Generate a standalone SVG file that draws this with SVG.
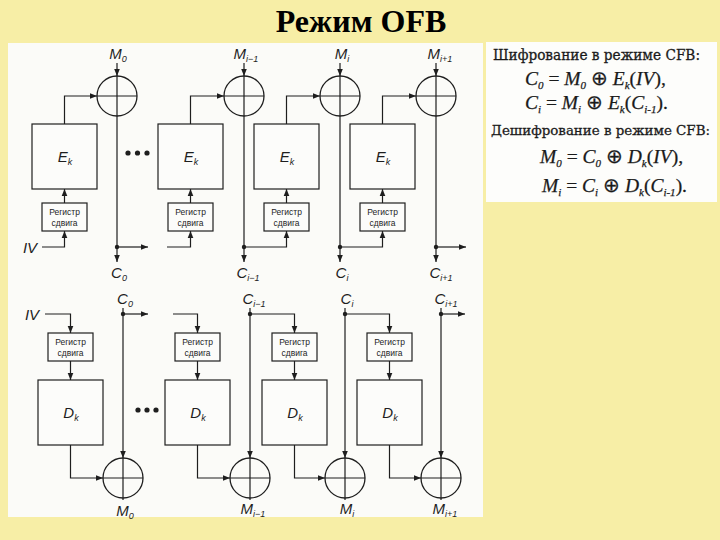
<svg xmlns="http://www.w3.org/2000/svg" width="720" height="540" viewBox="0 0 720 540">
<defs>
<marker id="ah" viewBox="0 0 10 10" refX="10" refY="5" markerWidth="7" markerHeight="7" markerUnits="userSpaceOnUse" orient="auto">
<path d="M0,1 L10,5 L0,9 z" fill="#1e1e1e"/>
</marker>
<style>
.ln{stroke:#1e1e1e;stroke-width:1.2;fill:none}
.ar{stroke:#1e1e1e;stroke-width:1.2;fill:none;marker-end:url(#ah)}
.bx{fill:#fcfcfa;stroke:#1e1e1e;stroke-width:1.2}
.xo{fill:none;stroke:#1e1e1e;stroke-width:1.3}
.dot{fill:#1e1e1e}
.lbl{font-family:"Liberation Sans",Arial,sans-serif;font-style:italic;font-size:15px;fill:#1e1e1e;text-anchor:middle}
.sub{font-size:9px}
.reg{font-family:"Liberation Sans",Arial,sans-serif;font-size:8.5px;fill:#1e1e1e;text-anchor:middle}
.title{font-family:"Liberation Serif","Times New Roman",serif;font-weight:bold;font-size:32px;fill:#000;text-anchor:middle}
.fh{font-family:"DejaVu Serif",serif;font-size:15px;fill:#1a1a1a;stroke:#1a1a1a;stroke-width:0.3}
.fh2{font-size:13.8px}
.fm{font-family:"Liberation Serif","Times New Roman",serif;font-size:19.5px;fill:#1a1a1a;stroke:#1a1a1a;stroke-width:0.25}
.it{font-style:italic}
.fs{font-size:11px;font-style:italic}
</style>
</defs>
<rect width="720" height="540" fill="#f7eea6"/>
<g id="title"><text class="title" x="361" y="32">Режим OFB</text></g>
<g id="panel-diagram"><rect x="8" y="43" width="475" height="474" fill="#fbfbf8"/></g>
<g id="panel-formulas">
<rect x="486" y="42" width="231" height="160" fill="#fdfdfb"/>
<text class="fh" x="493" y="60" textLength="207" lengthAdjust="spacingAndGlyphs">Шифрование в режиме CFB:</text>
<text class="fm" x="525" y="85"><tspan class="it">C</tspan><tspan class="fs" dy="4">0</tspan><tspan dy="-4"> = </tspan><tspan class="it">M</tspan><tspan class="fs" dy="4">0</tspan><tspan dy="-4"> ⊕ </tspan><tspan class="it">E</tspan><tspan class="fs" dy="4">k</tspan><tspan dy="-4">(</tspan><tspan class="it">IV</tspan><tspan>),</tspan></text>
<text class="fm" x="525" y="109"><tspan class="it">C</tspan><tspan class="fs" dy="4">i</tspan><tspan dy="-4"> = </tspan><tspan class="it">M</tspan><tspan class="fs" dy="4">i</tspan><tspan dy="-4"> ⊕ </tspan><tspan class="it">E</tspan><tspan class="fs" dy="4">k</tspan><tspan dy="-4">(</tspan><tspan class="it">C</tspan><tspan class="fs" dy="4">i-1</tspan><tspan dy="-4">).</tspan></text>
<text class="fh fh2" x="491" y="135" textLength="219" lengthAdjust="spacingAndGlyphs">Дешифрование в режиме CFB:</text>
<text class="fm" x="540" y="163"><tspan class="it">M</tspan><tspan class="fs" dy="4">0</tspan><tspan dy="-4"> = </tspan><tspan class="it">C</tspan><tspan class="fs" dy="4">0</tspan><tspan dy="-4"> ⊕ </tspan><tspan class="it">D</tspan><tspan class="fs" dy="4">k</tspan><tspan dy="-4">(</tspan><tspan class="it">IV</tspan><tspan>),</tspan></text>
<text class="fm" x="542" y="192"><tspan class="it">M</tspan><tspan class="fs" dy="4">i</tspan><tspan dy="-4"> = </tspan><tspan class="it">C</tspan><tspan class="fs" dy="4">i</tspan><tspan dy="-4"> ⊕ </tspan><tspan class="it">D</tspan><tspan class="fs" dy="4">k</tspan><tspan dy="-4">(</tspan><tspan class="it">C</tspan><tspan class="fs" dy="4">i-1</tspan><tspan dy="-4">).</tspan></text>
</g>

<!-- Encryption: XOR nodes -->
<g id="xor-e0"><circle class="xo" cx="117" cy="96" r="20"/><path class="ln" d="M97,96H137M117,76V116"/></g>
<g id="xor-e1"><circle class="xo" cx="244" cy="96" r="20"/><path class="ln" d="M224,96H264M244,76V116"/></g>
<g id="xor-e2"><circle class="xo" cx="340" cy="96" r="20"/><path class="ln" d="M320,96H360M340,76V116"/></g>
<g id="xor-e3"><circle class="xo" cx="436" cy="96" r="20"/><path class="ln" d="M416,96H456M436,76V116"/></g>
<!-- Encryption blocks -->
<g id="ek-1"><rect class="bx" x="32" y="124" width="65" height="65"/><text class="lbl" x="65" y="162">E<tspan class="sub" dy="3">k</tspan></text></g>
<g id="ek-2"><rect class="bx" x="158" y="124" width="65" height="65"/><text class="lbl" x="191" y="162">E<tspan class="sub" dy="3">k</tspan></text></g>
<g id="ek-3"><rect class="bx" x="254" y="124" width="65" height="65"/><text class="lbl" x="287" y="162">E<tspan class="sub" dy="3">k</tspan></text></g>
<g id="ek-4"><rect class="bx" x="350" y="124" width="65" height="65"/><text class="lbl" x="383" y="162">E<tspan class="sub" dy="3">k</tspan></text></g>
<g id="reg-e1"><rect class="bx" x="42" y="203" width="45" height="28"/><text class="reg" x="64.5" y="214.5">Регистр</text><text class="reg" x="64.5" y="226">сдвига</text></g>
<g id="reg-e2"><rect class="bx" x="168" y="203" width="45" height="28"/><text class="reg" x="190.5" y="214.5">Регистр</text><text class="reg" x="190.5" y="226">сдвига</text></g>
<g id="reg-e3"><rect class="bx" x="264" y="203" width="45" height="28"/><text class="reg" x="286.5" y="214.5">Регистр</text><text class="reg" x="286.5" y="226">сдвига</text></g>
<g id="reg-e4"><rect class="bx" x="360" y="203" width="45" height="28"/><text class="reg" x="382.5" y="214.5">Регистр</text><text class="reg" x="382.5" y="226">сдвига</text></g>
<!-- Encryption labels -->
<g id="lbl-e-m"><text class="lbl" x="118" y="59">M<tspan class="sub" dy="3">0</tspan></text>
<text class="lbl" x="246" y="59">M<tspan class="sub" dy="3">i−1</tspan></text>
<text class="lbl" x="342" y="59">M<tspan class="sub" dy="3">i</tspan></text>
<text class="lbl" x="440" y="59">M<tspan class="sub" dy="3">i+1</tspan></text></g>
<g id="lbl-e-c"><text class="lbl" x="119" y="278">C<tspan class="sub" dy="3">0</tspan></text>
<text class="lbl" x="248" y="278">C<tspan class="sub" dy="3">i−1</tspan></text>
<text class="lbl" x="342" y="278">C<tspan class="sub" dy="3">i</tspan></text>
<text class="lbl" x="441" y="278">C<tspan class="sub" dy="3">i+1</tspan></text></g>
<g id="lbl-e-iv"><text class="lbl" x="30" y="253">IV</text></g>
<g id="dots-e"><circle class="dot" cx="128" cy="153" r="2.6"/><circle class="dot" cx="137.5" cy="153" r="2.6"/><circle class="dot" cx="147" cy="153" r="2.6"/></g>

<!-- Decryption: XOR nodes -->
<g id="xor-d0"><circle class="xo" cx="123" cy="478" r="20"/><path class="ln" d="M103,478H143M123,458V500"/></g>
<g id="xor-d1"><circle class="xo" cx="250" cy="478" r="20"/><path class="ln" d="M230,478H270M250,458V500"/></g>
<g id="xor-d2"><circle class="xo" cx="345" cy="478" r="20"/><path class="ln" d="M325,478H365M345,458V500"/></g>
<g id="xor-d3"><circle class="xo" cx="441" cy="478" r="20"/><path class="ln" d="M421,478H461M441,458V500"/></g>
<g id="dk-1"><rect class="bx" x="38" y="380" width="65" height="65"/><text class="lbl" x="71" y="418">D<tspan class="sub" dy="3">k</tspan></text></g>
<g id="dk-2"><rect class="bx" x="165" y="380" width="65" height="65"/><text class="lbl" x="198" y="418">D<tspan class="sub" dy="3">k</tspan></text></g>
<g id="dk-3"><rect class="bx" x="262" y="380" width="65" height="65"/><text class="lbl" x="295" y="418">D<tspan class="sub" dy="3">k</tspan></text></g>
<g id="dk-4"><rect class="bx" x="357" y="380" width="65" height="65"/><text class="lbl" x="390" y="418">D<tspan class="sub" dy="3">k</tspan></text></g>
<g id="reg-d1"><rect class="bx" x="48" y="333" width="45" height="28"/><text class="reg" x="70.5" y="344.5">Регистр</text><text class="reg" x="70.5" y="356">сдвига</text></g>
<g id="reg-d2"><rect class="bx" x="175" y="333" width="45" height="28"/><text class="reg" x="197.5" y="344.5">Регистр</text><text class="reg" x="197.5" y="356">сдвига</text></g>
<g id="reg-d3"><rect class="bx" x="272" y="333" width="45" height="28"/><text class="reg" x="294.5" y="344.5">Регистр</text><text class="reg" x="294.5" y="356">сдвига</text></g>
<g id="reg-d4"><rect class="bx" x="367" y="333" width="45" height="28"/><text class="reg" x="389.5" y="344.5">Регистр</text><text class="reg" x="389.5" y="356">сдвига</text></g>
<g id="lbl-d-c"><text class="lbl" x="125" y="304">C<tspan class="sub" dy="3">0</tspan></text>
<text class="lbl" x="254" y="304">C<tspan class="sub" dy="3">i−1</tspan></text>
<text class="lbl" x="347" y="304">C<tspan class="sub" dy="3">i</tspan></text>
<text class="lbl" x="446" y="304">C<tspan class="sub" dy="3">i+1</tspan></text></g>
<g id="lbl-d-m"><text class="lbl" x="125" y="516">M<tspan class="sub" dy="3">0</tspan></text>
<text class="lbl" x="253" y="514">M<tspan class="sub" dy="3">i−1</tspan></text>
<text class="lbl" x="347" y="514">M<tspan class="sub" dy="3">i</tspan></text>
<text class="lbl" x="445" y="514">M<tspan class="sub" dy="3">i+1</tspan></text></g>
<g id="lbl-d-iv"><text class="lbl" x="32" y="320">IV</text></g>
<g id="dots-d"><circle class="dot" cx="138" cy="410" r="2.6"/><circle class="dot" cx="147" cy="410" r="2.6"/><circle class="dot" cx="156" cy="410" r="2.6"/></g>

<g id="connectors">
<!-- encryption -->
<path class="ar" d="M117,63V76"/><path class="ar" d="M244,63V76"/><path class="ar" d="M340,63V76"/><path class="ar" d="M436,63V76"/>
<path class="ar" d="M117,116V262"/><path class="ar" d="M244,116V262"/><path class="ar" d="M340,116V262"/><path class="ar" d="M436,116V262"/>
<path class="ar" d="M64.5,124V96H97"/><path class="ar" d="M190.5,124V96H224"/><path class="ar" d="M286.5,124V96H320"/><path class="ar" d="M382.5,124V96H416"/>
<path class="ar" d="M64.5,203V189"/><path class="ar" d="M190.5,203V189"/><path class="ar" d="M286.5,203V189"/><path class="ar" d="M382.5,203V189"/>
<path class="ar" d="M42,247H64.5V231"/><path class="ar" d="M167,247H190.5V231"/>
<path class="ar" d="M244,247H286.5V231"/><path class="ar" d="M340,247H382.5V231"/>
<path class="ar" d="M117,247H148"/><path class="ar" d="M436,247H466"/>
<circle class="dot" cx="117" cy="247" r="2.2"/><circle class="dot" cx="244" cy="247" r="2.2"/><circle class="dot" cx="340" cy="247" r="2.2"/><circle class="dot" cx="436" cy="247" r="2.2"/>
<!-- decryption -->
<path class="ar" d="M123,308V458"/><path class="ar" d="M250,308V458"/><path class="ar" d="M345,308V458"/><path class="ar" d="M441,308V458"/>
<path class="ar" d="M123,314H148"/><path class="ar" d="M441,314H465"/>
<path class="ar" d="M45,314H70.5V333"/><path class="ar" d="M173,314H197.5V333"/>
<path class="ar" d="M250,314H294.5V333"/><path class="ar" d="M345,314H389.5V333"/>
<path class="ar" d="M70.5,361V380"/><path class="ar" d="M197.5,361V380"/><path class="ar" d="M294.5,361V380"/><path class="ar" d="M389.5,361V380"/>
<path class="ar" d="M70.5,445V478H103"/><path class="ar" d="M197.5,445V478H230"/><path class="ar" d="M294.5,445V478H325"/><path class="ar" d="M389.5,445V478H421"/>
<circle class="dot" cx="123" cy="314" r="2.2"/><circle class="dot" cx="250" cy="314" r="2.2"/><circle class="dot" cx="345" cy="314" r="2.2"/><circle class="dot" cx="441" cy="314" r="2.2"/>
</g>
</svg>
